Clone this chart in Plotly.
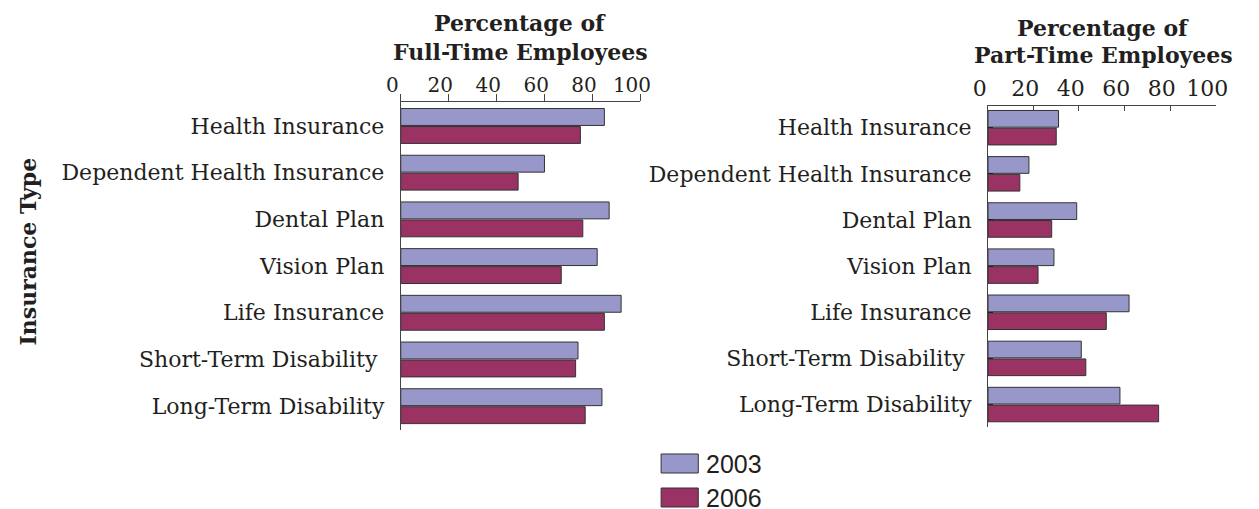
import plotly.graph_objects as go

categories = ["Health Insurance", "Dependent Health Insurance", "Dental Plan",
              "Vision Plan", "Life Insurance", "Short-Term Disability ",
              "Long-Term Disability"]
years = ["2003", "2006"]
full_2003 = [85, 60, 87, 82, 92, 74, 84]
full_2006 = [75, 49, 76, 67, 85, 73, 77]
part_2003 = [31, 18, 39, 29, 62, 41, 58]
part_2006 = [30, 14, 28, 22, 52, 43, 75]
tick_vals = [0, 20, 40, 60, 80, 100]

C2003 = "#9797CA"
C2006 = "#9A3264"
TXT = "#231f20"
SERIF = "DejaVu Serif"
W, H = 1259, 509


def px(x):
    return x / W


def py(y):
    return 1 - y / H


fig = go.Figure()
for vals, name, col in [(full_2003, years[0], C2003), (full_2006, years[1], C2006)]:
    fig.add_trace(go.Bar(x=vals, y=categories, orientation="h", name=name,
                         marker=dict(color=col, line=dict(color="#333333", width=1)),
                         xaxis="x", yaxis="y", showlegend=False))
for vals, name, col in [(part_2003, years[0], C2003), (part_2006, years[1], C2006)]:
    fig.add_trace(go.Bar(x=vals, y=categories, orientation="h", name=name,
                         marker=dict(color=col, line=dict(color="#333333", width=1)),
                         xaxis="x2", yaxis="y2", showlegend=False))

xcommon = dict(range=[0, 100], tickvals=tick_vals, side="top",
               tickcolor="#444", showline=True, linecolor="#444",
               linewidth=1, showgrid=False, zeroline=False, showticklabels=False)
ycommon = dict(type="category", showline=True, linecolor="#444", linewidth=1,
               showgrid=False, zeroline=False, ticklabelstandoff=11,
               tickfont=dict(family=SERIF, size=22, color=TXT))

L0, L1 = 402.7, 647.7
R0, R1 = 1003.3, 1236
LT, LB = 101.7, 430
RT, RB = 105.7, 426.7
SH = 8.5  # tick numbers sit ~8px left of their tick marks

fig.update_layout(
    width=W, height=H,
    margin=dict(l=0, r=0, t=0, b=0, pad=0),
    paper_bgcolor="white", plot_bgcolor="rgba(0,0,0,0)",
    barmode="group", bargap=0.23, bargroupgap=0.06,
    xaxis=dict(domain=[px(L0), px(L1)], anchor="y", ticks="outside",
               ticklen=7, **xcommon),
    yaxis=dict(domain=[py(LB), py(LT)], anchor="x", range=[6.51, -0.52],
               ticks="", **ycommon),
    xaxis2=dict(domain=[px(R0), px(R1)], anchor="y2", ticks="inside",
                ticklen=5, **xcommon),
    yaxis2=dict(domain=[py(RB), py(RT)], anchor="x2", range=[6.48, -0.477],
                ticks="inside", ticklen=5, tickcolor="#222", **ycommon),
    # label-only axes carrying the tick numbers
    xaxis3=dict(domain=[px(L0 - SH), px(L1 - SH)], anchor="free",
                position=py(LT), side="top",
                range=[0, 100], tickvals=tick_vals, ticks="",
                showline=False, showgrid=False, zeroline=False,
                ticklabelstandoff=6,
                tickfont=dict(family=SERIF, size=20, color=TXT)),
    xaxis4=dict(domain=[px(R0 - SH), px(R1 - SH)], anchor="free",
                position=py(RT), side="top",
                range=[0, 100], tickvals=tick_vals, ticks="",
                showline=False, showgrid=False, zeroline=False,
                ticklabelstandoff=5,
                tickfont=dict(family=SERIF, size=22, color=TXT)),
)
# invisible helper traces so the label axes are drawn
fig.add_trace(go.Scatter(x=[None], y=[categories[0]], xaxis="x3", yaxis="y",
                         showlegend=False, hoverinfo="skip"))
fig.add_trace(go.Scatter(x=[None], y=[categories[0]], xaxis="x4", yaxis="y2",
                         showlegend=False, hoverinfo="skip"))

ann = []


def title(text, x, y):
    ann.append(dict(text=text, x=px(x), y=py(y), xref="paper", yref="paper",
                    xanchor="center", yanchor="middle", showarrow=False,
                    font=dict(family=SERIF, size=22, color=TXT)))


title("<b>Percentage of</b>", 525, 23)
title("<b>Full-Time Employees</b>", 525, 52)
title("<b>Percentage of</b>", 1121, 28)
title("<b>Part-Time Employees</b>", 1121, 55)
ann.append(dict(text="<b>Insurance Type</b>", x=px(21), y=py(252), xref="paper",
                yref="paper", xanchor="center", yanchor="middle", textangle=-90,
                showarrow=False, font=dict(family=SERIF, size=22, color=TXT)))

shapes = []
for i, (name, col) in enumerate([(years[0], C2003), (years[1], C2006)]):
    top = 454 + i * 34
    shapes.append(dict(type="rect", xref="paper", yref="paper",
                       x0=px(669), x1=px(707), y0=py(top + 19), y1=py(top),
                       fillcolor=col, line=dict(color="#333333", width=1)))
    ann.append(dict(text=name, x=px(713), y=py(top + 9.5), xref="paper",
                    yref="paper", xanchor="left", yanchor="middle",
                    showarrow=False,
                    font=dict(family="Liberation Sans", size=25, color=TXT)))

fig.update_layout(annotations=ann, shapes=shapes)
fig.write_html(
    "out.html",
    config={"displayModeBar": False},
    post_script="document.body.style.margin='0';document.body.style.overflow='hidden';",
)
